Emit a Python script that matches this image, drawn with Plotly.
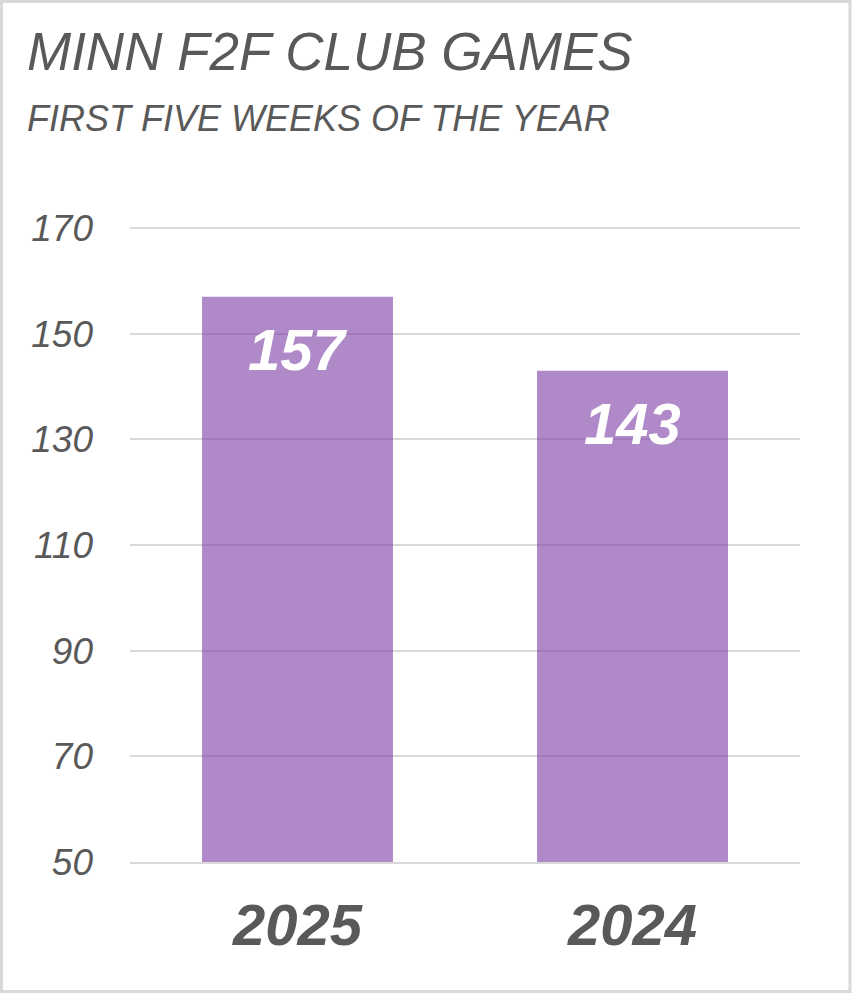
import plotly.graph_objects as go

years = ["2025", "2024"]
games = [157, 143]
y_ticks = [50, 70, 90, 110, 130, 150, 170]

title_text = "MINN F2F CLUB GAMES"
subtitle_text = "FIRST FIVE WEEKS OF THE YEAR"

W, H = 852, 993
L, R, T, B = 130, 52, 226, 131
pw, ph = W - L - R, H - T - B

def px_x(p):
    return (p - L) / pw

def px_y(p):
    return (H - B - p) / ph

font_name = "Liberation Sans, Arial, sans-serif"
grey = "#595959"
grid = "#d9d9d9"

fig = go.Figure(go.Bar(
    x=years, y=games,
    marker=dict(color="rgb(123,60,163)", line=dict(width=0)),
    opacity=0.6,
    hoverinfo="skip",
))

# value labels: category serial number on x, bar value on y
for i, v in enumerate(games):
    fig.add_annotation(x=i, y=v, text=str(v), showarrow=False,
                       yanchor="top", yshift=-18,
                       font=dict(family=font_name, size=58, color="white",
                                 weight="bold", style="italic"))

fig.add_annotation(xref="paper", yref="paper", x=px_x(25), y=px_y(20),
                   xanchor="left", yanchor="top", showarrow=False,
                   text=title_text,
                   font=dict(family=font_name, size=53, color=grey, style="italic"))
fig.add_annotation(xref="paper", yref="paper", x=px_x(25), y=px_y(96),
                   xanchor="left", yanchor="top", showarrow=False,
                   text=subtitle_text,
                   font=dict(family=font_name, size=36, color=grey, style="italic"))

# outer border of the chart
fig.add_shape(type="rect", xref="paper", yref="paper",
              x0=px_x(1.5), x1=px_x(850), y0=px_y(1.5), y1=px_y(991.5),
              line=dict(color=grid, width=3), layer="below")

fig.update_layout(
    width=W, height=H,
    margin=dict(l=L, r=R, t=T, b=B),
    paper_bgcolor="white", plot_bgcolor="white",
    bargap=0.43,
    showlegend=False,
)
# top padded a touch so the 170 grid line is drawn; x axis line stands in for 50
fig.update_yaxes(range=[50, 170.4], tickvals=y_ticks, showgrid=True,
                 gridcolor=grid, gridwidth=2, zeroline=False,
                 showline=False, ticks="", ticklabelstandoff=36,
                 tickfont=dict(family=font_name, size=37, color=grey, style="italic"))
fig.update_xaxes(type="category", range=[-0.5, 1.5], showgrid=False,
                 showline=True, linecolor=grid, linewidth=2,
                 ticks="", ticklabelstandoff=11,
                 tickfont=dict(family=font_name, size=58, color=grey,
                               weight="bold", style="italic"))

fig.write_html("out.html", config={"displayModeBar": False},
               post_script="document.body.style.margin='0';")
